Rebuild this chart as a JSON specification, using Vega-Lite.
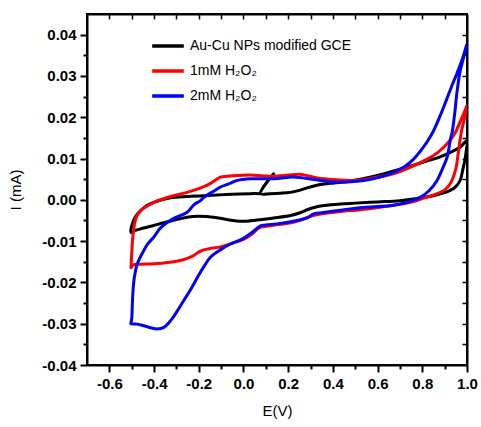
{
  "$schema": "https://vega.github.io/schema/vega-lite/v6.json",
  "width": 380,
  "height": 351,
  "autosize": {"type": "none"},
  "padding": {"left": 87, "top": 14, "right": 14, "bottom": 62},
  "background": "white",
  "config": {
    "view": {"stroke": "black", "strokeWidth": 2},
    "font": "Liberation Sans",
    "axis": {"grid": false, "domainColor": "black", "domainWidth": 2, "tickColor": "black", "labelColor": "black", "titleColor": "black", "labelFont": "Liberation Sans", "titleFont": "Liberation Sans"}
  },
  "data": {"values": [
    {"s":"a","o":1,"E":0.135,"I":0.0063},{"s":"a","o":2,"E":0.076,"I":0.0015},{"s":"a","o":3,"E":0.12,"I":0.0015},{"s":"a","o":4,"E":0.165,"I":0.0016},{"s":"a","o":5,"E":0.21,"I":0.0018},{"s":"a","o":6,"E":0.25,"I":0.0023},{"s":"a","o":7,"E":0.285,"I":0.0029},{"s":"a","o":8,"E":0.344,"I":0.0037},{"s":"a","o":9,"E":0.404,"I":0.0041},{"s":"a","o":10,"E":0.46,"I":0.0044},{"s":"a","o":11,"E":0.523,"I":0.005},{"s":"a","o":12,"E":0.6,"I":0.0059},{"s":"a","o":13,"E":0.68,"I":0.0071},{"s":"a","o":14,"E":0.75,"I":0.0082},{"s":"a","o":15,"E":0.82,"I":0.0094},{"s":"a","o":16,"E":0.88,"I":0.0104},{"s":"a","o":17,"E":0.93,"I":0.0116},{"s":"a","o":18,"E":0.97,"I":0.0128},{"s":"a","o":19,"E":1.0,"I":0.0144},
    {"s":"a","o":20,"E":0.997,"I":0.012},{"s":"a","o":21,"E":0.99,"I":0.0095},{"s":"a","o":22,"E":0.98,"I":0.007},{"s":"a","o":23,"E":0.97,"I":0.0048},{"s":"a","o":24,"E":0.95,"I":0.0032},{"s":"a","o":25,"E":0.925,"I":0.0023},{"s":"a","o":26,"E":0.87,"I":0.0013},{"s":"a","o":27,"E":0.8,"I":0.0005},{"s":"a","o":28,"E":0.7,"I":-0.0002},{"s":"a","o":29,"E":0.6,"I":-0.0005},{"s":"a","o":30,"E":0.5,"I":-0.0008},{"s":"a","o":31,"E":0.434,"I":-0.001},{"s":"a","o":32,"E":0.36,"I":-0.0014},{"s":"a","o":33,"E":0.32,"I":-0.0018},{"s":"a","o":34,"E":0.285,"I":-0.0024},{"s":"a","o":35,"E":0.25,"I":-0.0032},{"s":"a","o":36,"E":0.21,"I":-0.0038},{"s":"a","o":37,"E":0.135,"I":-0.0044},{"s":"a","o":38,"E":0.06,"I":-0.0049},{"s":"a","o":39,"E":-0.013,"I":-0.0052},{"s":"a","o":40,"E":-0.07,"I":-0.0048},{"s":"a","o":41,"E":-0.134,"I":-0.0042},{"s":"a","o":42,"E":-0.2,"I":-0.004},{"s":"a","o":43,"E":-0.252,"I":-0.0042},{"s":"a","o":44,"E":-0.33,"I":-0.0052},{"s":"a","o":45,"E":-0.401,"I":-0.0062},{"s":"a","o":46,"E":-0.45,"I":-0.0069},{"s":"a","o":47,"E":-0.49,"I":-0.0075},{"s":"a","o":48,"E":-0.503,"I":-0.0079},{"s":"a","o":49,"E":-0.503,"I":-0.007},{"s":"a","o":50,"E":-0.495,"I":-0.0055},{"s":"a","o":51,"E":-0.485,"I":-0.0042},{"s":"a","o":52,"E":-0.46,"I":-0.0026},{"s":"a","o":53,"E":-0.43,"I":-0.0013},{"s":"a","o":54,"E":-0.401,"I":-0.0006},{"s":"a","o":55,"E":-0.326,"I":0.0005},{"s":"a","o":56,"E":-0.25,"I":0.0008},{"s":"a","o":57,"E":-0.177,"I":0.001},{"s":"a","o":58,"E":-0.08,"I":0.0013},{"s":"a","o":59,"E":0.031,"I":0.0015},{"s":"a","o":60,"E":0.076,"I":0.0015},
    {"s":"b","o":1,"E":-0.503,"I":-0.0164},{"s":"b","o":2,"E":-0.4995,"I":-0.0125},{"s":"b","o":3,"E":-0.495,"I":-0.009},{"s":"b","o":4,"E":-0.488,"I":-0.006},{"s":"b","o":5,"E":-0.478,"I":-0.004},{"s":"b","o":6,"E":-0.46,"I":-0.0026},{"s":"b","o":7,"E":-0.43,"I":-0.0015},{"s":"b","o":8,"E":-0.401,"I":-0.0006},{"s":"b","o":9,"E":-0.326,"I":0.0008},{"s":"b","o":10,"E":-0.252,"I":0.0018},{"s":"b","o":11,"E":-0.2,"I":0.0027},{"s":"b","o":12,"E":-0.16,"I":0.0036},{"s":"b","o":13,"E":-0.13,"I":0.0046},{"s":"b","o":14,"E":-0.103,"I":0.0055},{"s":"b","o":15,"E":-0.073,"I":0.0057},{"s":"b","o":16,"E":-0.028,"I":0.0059},{"s":"b","o":17,"E":0.031,"I":0.006},{"s":"b","o":18,"E":0.09,"I":0.0058},{"s":"b","o":19,"E":0.135,"I":0.0057},{"s":"b","o":20,"E":0.2,"I":0.006},{"s":"b","o":21,"E":0.25,"I":0.0062},{"s":"b","o":22,"E":0.29,"I":0.0058},{"s":"b","o":23,"E":0.33,"I":0.0053},{"s":"b","o":24,"E":0.404,"I":0.0049},{"s":"b","o":25,"E":0.5,"I":0.0047},{"s":"b","o":26,"E":0.57,"I":0.0052},{"s":"b","o":27,"E":0.67,"I":0.0063},{"s":"b","o":28,"E":0.75,"I":0.008},{"s":"b","o":29,"E":0.82,"I":0.0098},{"s":"b","o":30,"E":0.87,"I":0.0115},{"s":"b","o":31,"E":0.91,"I":0.0135},{"s":"b","o":32,"E":0.945,"I":0.016},{"s":"b","o":33,"E":0.97,"I":0.019},{"s":"b","o":34,"E":0.99,"I":0.0215},{"s":"b","o":35,"E":1.0,"I":0.0229},
    {"s":"b","o":36,"E":0.99,"I":0.02},{"s":"b","o":37,"E":0.975,"I":0.0165},{"s":"b","o":38,"E":0.96,"I":0.011},{"s":"b","o":39,"E":0.95,"I":0.0075},{"s":"b","o":40,"E":0.925,"I":0.0039},{"s":"b","o":41,"E":0.9,"I":0.0024},{"s":"b","o":42,"E":0.866,"I":0.0015},{"s":"b","o":43,"E":0.8,"I":0.0003},{"s":"b","o":44,"E":0.747,"I":-0.0006},{"s":"b","o":45,"E":0.65,"I":-0.0015},{"s":"b","o":46,"E":0.523,"I":-0.0024},{"s":"b","o":47,"E":0.434,"I":-0.0028},{"s":"b","o":48,"E":0.35,"I":-0.0034},{"s":"b","o":49,"E":0.3,"I":-0.004},{"s":"b","o":50,"E":0.25,"I":-0.005},{"s":"b","o":51,"E":0.2,"I":-0.0057},{"s":"b","o":52,"E":0.15,"I":-0.006},{"s":"b","o":53,"E":0.1,"I":-0.0064},{"s":"b","o":54,"E":0.07,"I":-0.0068},{"s":"b","o":55,"E":0.031,"I":-0.0086},{"s":"b","o":56,"E":0.0,"I":-0.0096},{"s":"b","o":57,"E":-0.05,"I":-0.0105},{"s":"b","o":58,"E":-0.103,"I":-0.0114},{"s":"b","o":59,"E":-0.15,"I":-0.0118},{"s":"b","o":60,"E":-0.192,"I":-0.0124},{"s":"b","o":61,"E":-0.23,"I":-0.0137},{"s":"b","o":62,"E":-0.27,"I":-0.0145},{"s":"b","o":63,"E":-0.34,"I":-0.0152},{"s":"b","o":64,"E":-0.401,"I":-0.0155},{"s":"b","o":65,"E":-0.46,"I":-0.0156},{"s":"b","o":66,"E":-0.49,"I":-0.0157},{"s":"b","o":67,"E":-0.503,"I":-0.0164},
    {"s":"c","o":1,"E":-0.504,"I":-0.03},{"s":"c","o":2,"E":-0.4995,"I":-0.0285},{"s":"c","o":3,"E":-0.497,"I":-0.025},{"s":"c","o":4,"E":-0.492,"I":-0.0205},{"s":"c","o":5,"E":-0.484,"I":-0.0175},{"s":"c","o":6,"E":-0.475,"I":-0.0155},{"s":"c","o":7,"E":-0.46,"I":-0.0137},{"s":"c","o":8,"E":-0.446,"I":-0.0123},{"s":"c","o":9,"E":-0.43,"I":-0.0108},{"s":"c","o":10,"E":-0.401,"I":-0.009},{"s":"c","o":11,"E":-0.371,"I":-0.0068},{"s":"c","o":12,"E":-0.312,"I":-0.0045},{"s":"c","o":13,"E":-0.252,"I":-0.003},{"s":"c","o":14,"E":-0.222,"I":-0.0012},{"s":"c","o":15,"E":-0.192,"I":-0.0002},{"s":"c","o":16,"E":-0.177,"I":0.0006},{"s":"c","o":17,"E":-0.13,"I":0.0022},{"s":"c","o":18,"E":-0.103,"I":0.0031},{"s":"c","o":19,"E":-0.06,"I":0.004},{"s":"c","o":20,"E":-0.028,"I":0.0047},{"s":"c","o":21,"E":0.031,"I":0.0051},{"s":"c","o":22,"E":0.135,"I":0.0051},{"s":"c","o":23,"E":0.225,"I":0.0055},{"s":"c","o":24,"E":0.314,"I":0.0049},{"s":"c","o":25,"E":0.404,"I":0.0043},{"s":"c","o":26,"E":0.508,"I":0.0045},{"s":"c","o":27,"E":0.57,"I":0.005},{"s":"c","o":28,"E":0.63,"I":0.0058},{"s":"c","o":29,"E":0.672,"I":0.0067},{"s":"c","o":30,"E":0.72,"I":0.008},{"s":"c","o":31,"E":0.76,"I":0.0098},{"s":"c","o":32,"E":0.79,"I":0.0117},{"s":"c","o":33,"E":0.821,"I":0.014},{"s":"c","o":34,"E":0.851,"I":0.0168},{"s":"c","o":35,"E":0.881,"I":0.0205},{"s":"c","o":36,"E":0.91,"I":0.0245},{"s":"c","o":37,"E":0.935,"I":0.028},{"s":"c","o":38,"E":0.955,"I":0.0306},{"s":"c","o":39,"E":0.98,"I":0.0342},{"s":"c","o":40,"E":1.0,"I":0.0378},
    {"s":"c","o":41,"E":0.985,"I":0.0345},{"s":"c","o":42,"E":0.97,"I":0.0314},{"s":"c","o":43,"E":0.955,"I":0.026},{"s":"c","o":44,"E":0.945,"I":0.0209},{"s":"c","o":45,"E":0.935,"I":0.0168},{"s":"c","o":46,"E":0.925,"I":0.0144},{"s":"c","o":47,"E":0.911,"I":0.0103},{"s":"c","o":48,"E":0.89,"I":0.0075},{"s":"c","o":49,"E":0.866,"I":0.0047},{"s":"c","o":50,"E":0.83,"I":0.0022},{"s":"c","o":51,"E":0.791,"I":0.0006},{"s":"c","o":52,"E":0.74,"I":-0.0005},{"s":"c","o":53,"E":0.672,"I":-0.0013},{"s":"c","o":54,"E":0.523,"I":-0.0019},{"s":"c","o":55,"E":0.434,"I":-0.0025},{"s":"c","o":56,"E":0.35,"I":-0.0031},{"s":"c","o":57,"E":0.314,"I":-0.0034},{"s":"c","o":58,"E":0.285,"I":-0.0044},{"s":"c","o":59,"E":0.24,"I":-0.005},{"s":"c","o":60,"E":0.165,"I":-0.0057},{"s":"c","o":61,"E":0.1,"I":-0.0061},{"s":"c","o":62,"E":0.076,"I":-0.0063},{"s":"c","o":63,"E":0.04,"I":-0.0078},{"s":"c","o":64,"E":0.017,"I":-0.0087},{"s":"c","o":65,"E":-0.013,"I":-0.0097},{"s":"c","o":66,"E":-0.058,"I":-0.0107},{"s":"c","o":67,"E":-0.1,"I":-0.012},{"s":"c","o":68,"E":-0.148,"I":-0.0139},{"s":"c","o":69,"E":-0.175,"I":-0.016},{"s":"c","o":70,"E":-0.2,"I":-0.0182},{"s":"c","o":71,"E":-0.237,"I":-0.0218},{"s":"c","o":72,"E":-0.265,"I":-0.0242},{"s":"c","o":73,"E":-0.296,"I":-0.0269},{"s":"c","o":74,"E":-0.325,"I":-0.0292},{"s":"c","o":75,"E":-0.356,"I":-0.0309},{"s":"c","o":76,"E":-0.386,"I":-0.0313},{"s":"c","o":77,"E":-0.42,"I":-0.0309},{"s":"c","o":78,"E":-0.446,"I":-0.0305},{"s":"c","o":79,"E":-0.475,"I":-0.0301},{"s":"c","o":80,"E":-0.504,"I":-0.03}
  ]},
  "layer": [
    {
      "mark": {"type": "line", "strokeWidth": 3, "clip": true, "interpolate": "catmull-rom", "strokeJoin": "round", "strokeCap": "round"},
      "encoding": {
        "x": {"field": "E", "type": "quantitative", "scale": {"domain": [-0.7, 1.0], "nice": false, "zero": false},
          "axis": {"orient": "bottom", "title": "E(V)", "titleFontSize": 15, "titleFontWeight": "normal", "titlePadding": 12,
            "values": [-0.6,-0.5,-0.4,-0.3,-0.2,-0.1,0,0.1,0.2,0.3,0.4,0.5,0.6,0.7,0.8,0.9,1.0],
            "labelExpr": "round(datum.value*10) % 2 === 0 ? replace(format(datum.value, '.1f'), '\u2212', '-') : ''",
            "labelFontSize": 15, "labelFontWeight": "bold", "labelPadding": 4, "labelOverlap": false, "labelFlush": false,
            "tickWidth": 2, "tickSize": {"condition": {"test": "round(datum.value*10) % 2 === 0", "value": 7}, "value": 4}}},
        "y": {"field": "I", "type": "quantitative", "scale": {"domain": [-0.04, 0.045], "nice": false, "zero": false},
          "axis": {"orient": "left", "title": "I (mA)", "titleFontSize": 15, "titleFontWeight": "normal", "titlePadding": 18,
            "values": [-0.04,-0.035,-0.03,-0.025,-0.02,-0.015,-0.01,-0.005,0,0.005,0.01,0.015,0.02,0.025,0.03,0.035,0.04],
            "labelExpr": "round(datum.value*200) % 2 === 0 ? replace(format(datum.value, '.2f'), '\u2212', '-') : ''",
            "labelFontSize": 15, "labelFontWeight": "bold", "labelPadding": 4, "labelOverlap": false, "labelFlush": false,
            "tickWidth": 2, "tickSize": {"condition": {"test": "round(datum.value*200) % 2 === 0", "value": 7}, "value": 4}}},
        "order": {"field": "o", "type": "quantitative"},
        "color": {"field": "s", "type": "nominal",
          "scale": {"domain": ["a", "b", "c"], "range": ["#000000", "#ff0000", "#0000ff"]},
          "legend": {"orient": "none", "legendX": 63, "legendY": 14, "title": null, "symbolType": "stroke", "symbolSize": 1000, "symbolStrokeWidth": 3.5,
            "labelFontSize": 14, "labelFont": "Liberation Sans", "labelColor": "black", "labelOffset": 4, "labelLimit": 400, "rowPadding": 0, "padding": 0,
            "labelExpr": "datum.value === 'a' ? 'Au-Cu NPs modified GCE' : datum.value === 'b' ? '1mM H₂O₂' : '2mM H₂O₂'"}}
      }
    },
    {
      "mark": {"type": "line", "strokeOpacity": 0},
      "encoding": {
        "x": {"field": "E", "type": "quantitative",
          "axis": {"orient": "top", "title": null, "labels": false, "tickSize": -5, "tickWidth": 1.5,
            "values": [-0.6,-0.5,-0.4,-0.3,-0.2,-0.1,0,0.1,0.2,0.3,0.4,0.5,0.6,0.7,0.8,0.9]}},
        "y": {"field": "I", "type": "quantitative",
          "axis": {"orient": "right", "title": null, "labels": false, "tickSize": -5, "tickWidth": 1.5,
            "values": [-0.035,-0.03,-0.025,-0.02,-0.015,-0.01,-0.005,0,0.005,0.01,0.015,0.02,0.025,0.03,0.035,0.04]}},
        "detail": {"field": "s", "type": "nominal"},
        "order": {"field": "o", "type": "quantitative"}
      }
    }
  ],
  "resolve": {"axis": {"x": "independent", "y": "independent"}}
}
